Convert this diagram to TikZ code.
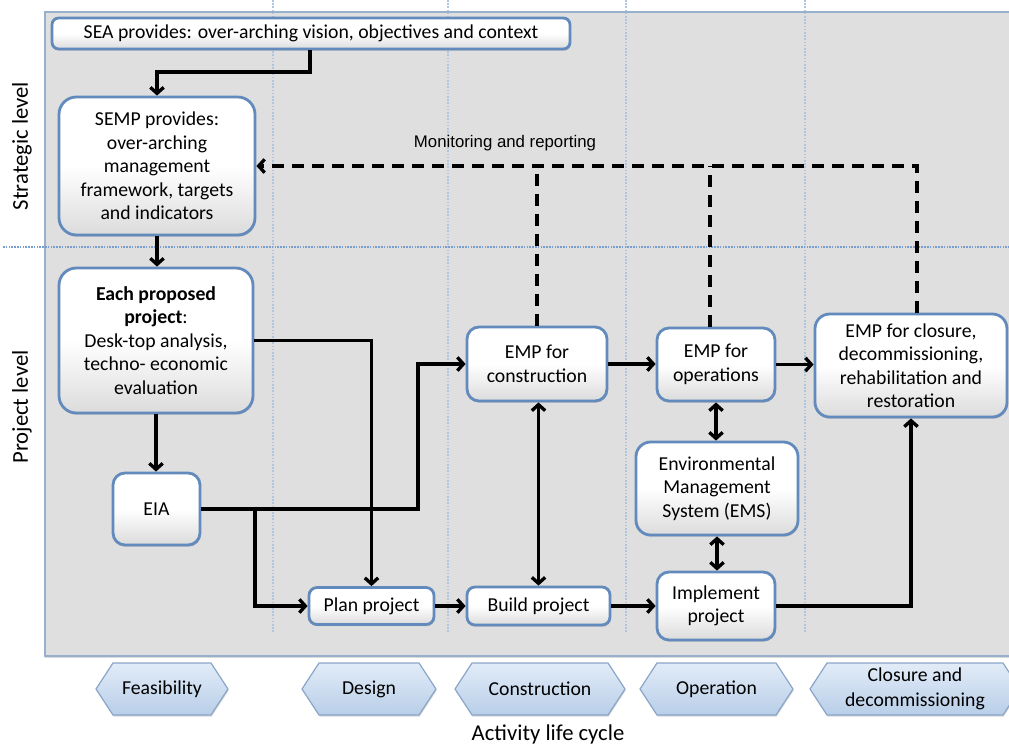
\documentclass[tikz,border=0pt]{standalone}
\usepackage{fontspec}
\setmainfont{Carlito}
\newfontfamily\arialfont{Liberation Sans}
\usetikzlibrary{arrows.meta,shadows,calc}

\definecolor{panelfill}{RGB}{223,223,223}
\definecolor{panelline}{RGB}{150,176,206}
\definecolor{boxline}{RGB}{98,138,188}
\definecolor{gridh}{RGB}{120,158,208}
\definecolor{gridv}{RGB}{176,196,222}
\definecolor{phasetop}{RGB}{226,236,248}
\definecolor{phasebot}{RGB}{184,206,232}
\definecolor{phaseline}{RGB}{138,165,200}

\newcommand\diagfont{\fontsize{14.8}{17.6}\selectfont}
\newcommand\sidefont{\fontsize{17}{20}\selectfont}

% hexagonal phase tag: name, centre x, half width, text
\newcommand\phasebox[4]{%
  \path[phase] (#2-#3,689) -- (#2-#3+17,663) -- (#2+#3-17,663) -- (#2+#3,689)
     -- (#2+#3-17,715) -- (#2-#3+17,715) -- cycle;
  \node[phasetext] (#1) at (#2,689) {#4};}

\tikzset{
  box/.style={draw=boxline, line width=2.1pt, rounded corners=#1,
    top color=white, bottom color=black!14, middle color=white,
    align=center, inner sep=2pt, font=\diagfont,
    drop shadow={shadow xshift=0.6pt, shadow yshift=-1.3pt, opacity=0.35}},
  box/.default=10pt,
  arr/.style={line width=2.5pt, -{Straight Barb[length=4.5pt,width=10pt]}},
  darr/.style={line width=2.5pt,
    {Straight Barb[length=4.5pt,width=10pt]}-{Straight Barb[length=4.5pt,width=10pt]}},
  dashline/.style={line width=2.5pt, dash pattern=on 9pt off 6pt},
  phase/.style={draw=phaseline, line width=0.9pt, top color=phasetop, bottom color=phasebot,
    drop shadow={shadow xshift=0.5pt, shadow yshift=-1.2pt, opacity=0.3}},
  phasetext/.style={align=center, font=\fontsize{14.8}{18.5}\selectfont, inner sep=0pt},
}

\begin{document}
\begin{tikzpicture}[x=0.75pt,y=-0.75pt]
\useasboundingbox (0,0) rectangle (1009,747);

% background panel
\draw[draw=panelline, line width=1.1pt, fill=panelfill,
  drop shadow={shadow xshift=0pt, shadow yshift=-1.5pt, opacity=0.3}] (45,12) rectangle (1020,656);

% phase columns and level divider
\foreach \gx in {273,448,626,805}
  \draw[gridv, line width=1pt, dash pattern=on 1.2pt off 1.2pt] (\gx,0) -- (\gx,633);
\draw[gridh, line width=1.6pt, dash pattern=on 1.2pt off 0.9pt] (3,247) -- (1009,247);

% level labels
\node[font=\sidefont, rotate=90] (strat) at (22,146) {Strategic level};
\node[font=\sidefont, rotate=90] (projl) at (22,407) {Project level};

% boxes
\node[box=5pt, minimum width=388.5pt, minimum height=23.25pt] (sea) at (311,33.5)
  {SEA provides: over-arching vision, objectives and context};
\node[box=13pt, minimum width=147pt, minimum height=103.5pt] (semp) at (157,166)
  {SEMP provides:\\over-arching\\management\\framework, targets\\and indicators};
\node[box=13pt, minimum width=145.5pt, minimum height=108.75pt] (epp) at (156,340.5)
  {\textbf{Each proposed}\\\textbf{project}:\\Desk-top analysis,\\techno- economic\\evaluation};
\node[box=9pt, minimum width=65.25pt, minimum height=54pt] (eia) at (156.5,509) {EIA};
\node[box=6pt, minimum width=93.75pt, minimum height=27.75pt] (plan) at (371.5,606) {Plan project};
\node[box=6pt, minimum width=107.25pt, minimum height=28.5pt] (build) at (538.5,606) {Build project};
\node[box=9pt, minimum width=105pt, minimum height=55.5pt] (empc) at (537,364)
  {EMP for\\construction};
\node[box=9pt, minimum width=88.5pt, minimum height=54.75pt] (empo) at (716,364.5)
  {EMP for\\operations};
\node[box=11pt, minimum width=121.5pt, minimum height=69.75pt] (ems) at (717,488.5)
  {Environmental\\Management\\System (EMS)};
\node[box=9pt, minimum width=88.5pt, minimum height=51pt] (impl) at (716,606)
  {Implement\\project};
\node[box=11pt, minimum width=144pt, minimum height=77.25pt] (empcl) at (911,365.5)
  {EMP for closure,\\decommissioning,\\rehabilitation and\\restoration};

% solid connectors
\coordinate (seaturn) at (310,72);
\draw[arr] (sea.south -| seaturn) -- (seaturn) -| (semp.north);
\draw[arr] (semp.south) -- (semp.south |- epp.north);
\draw[arr] (epp.south) -- (epp.south |- eia.north);
\draw[arr] (epp.east) -| (plan.north);
\coordinate (eiaup) at (418,509);
\draw[arr] (eia.east) -- (eiaup) |- (empc.west);
\coordinate (eiabranch) at (255,509);
\draw[arr] (eiabranch) |- (plan.west);
\draw[arr] (plan.east) -- (build.west);
\draw[arr] (build.east) -- (impl.west);
\draw[arr] (impl.east) -| (empcl.south);
\draw[arr] (empc.east) -- (empc.east -| empo.west);
\draw[arr] (empo.east) -- (empo.east -| empcl.west);
\draw[darr] (build.north) -- (build.north |- empc.south);
\draw[darr] (empo.south) -- (empo.south |- ems.north);
\draw[darr] (ems.south) -- (ems.south |- impl.north);

% monitoring and reporting feedback
\coordinate (mrturn) at (917,166);
\coordinate (empoup) at (710,166);
\draw[dashline, -{Straight Barb[length=4.5pt,width=10pt]}]
  (empcl.north -| mrturn) -- (mrturn) -- (mrturn -| semp.east);
\draw[dashline] (empc.north) -- (empc.north |- mrturn);
\draw[dashline] (empoup |- empo.north) -- (empoup);
\node[font=\arialfont\fontsize{12.6}{15}\selectfont] (mr) at (505,143) {Monitoring and reporting};

% activity life cycle
\phasebox{feas}{162}{66}{Feasibility}
\phasebox{design}{369}{67}{Design}
\phasebox{constr}{540}{85}{Construction}
\phasebox{oper}{716.5}{76.5}{Operation}
\phasebox{close}{915}{105}{Closure and\\decommissioning}
\node[font=\sidefont] (life) at (548,734) {Activity life cycle};
\end{tikzpicture}
\end{document}
